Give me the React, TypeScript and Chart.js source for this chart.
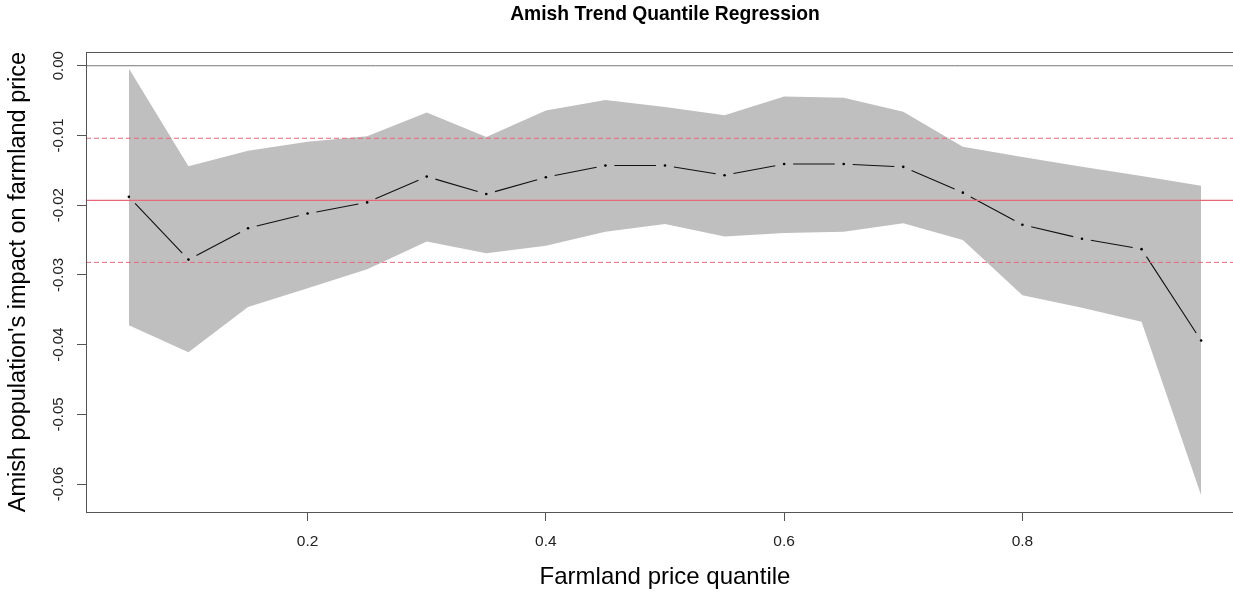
import React, { useEffect, useRef } from "react";
import { Chart, registerables } from "chart.js";

Chart.register(...registerables);

// ---- Data ----
const quantiles = [0.05, 0.1, 0.15, 0.2, 0.25, 0.3, 0.35, 0.4, 0.45, 0.5, 0.55, 0.6, 0.65, 0.7, 0.75, 0.8, 0.85, 0.9, 0.95];
const coefficients = [-0.0188, -0.0278, -0.0233, -0.0212, -0.0196, -0.0159, -0.0184, -0.016, -0.0143, -0.0143, -0.0157, -0.0141, -0.0141, -0.0145, -0.0182, -0.0228, -0.0248, -0.0263, -0.0394];
const upperBound = [-0.0004, -0.0144, -0.0122, -0.0109, -0.0101, -0.0067, -0.0102, -0.0064, -0.0049, -0.0059, -0.0071, -0.0044, -0.0046, -0.0066, -0.0116, -0.0131, -0.0145, -0.0158, -0.0172];
const lowerBound = [-0.0372, -0.0411, -0.0346, -0.0319, -0.0292, -0.0252, -0.0269, -0.0258, -0.0238, -0.0227, -0.0245, -0.024, -0.0238, -0.0226, -0.025, -0.0329, -0.0347, -0.0367, -0.0616];
const olsEstimate = -0.0193;
const olsLower = -0.0282;
const olsUpper = -0.0104;
const zeroLevel = 0;

const xTicks = [0.2, 0.4, 0.6, 0.8];
const yTicks = [0, -0.01, -0.02, -0.03, -0.04, -0.05, -0.06];
const xRange = [0.014, 0.986];
const yRange = [-0.064, 0.00195];

const chartTitle = "Amish Trend Quantile Regression";
const xTitle = "Farmland price quantile";
const yTitle = "Amish population's impact on farmland price";

const FONT = "'Liberation Sans', Arial, Helvetica, sans-serif";
const BAND = "#bfbfbf";
const RED = "#e8687a";
const AXIS = "#555555";
const GAP = 9; // gap (px) left open at each end of a segment, as in R's type = "b"

export default function App() {
  const ref = useRef<HTMLCanvasElement>(null);

  useEffect(() => {
    const canvas = ref.current;
    if (!canvas) return;
    const pts = (vals: number[]) => quantiles.map((q, i) => ({ x: q, y: vals[i] }));
    const hline = (v: number) => [
      { x: xRange[0], y: v },
      { x: xRange[1], y: v },
    ];

    const frame = {
      id: "frame",
      afterDraw(chart: any) {
        const { ctx, chartArea: a } = chart;
        ctx.save();
        ctx.strokeStyle = AXIS;
        ctx.lineWidth = 1;
        ctx.strokeRect(Math.round(a.left) + 0.5, Math.round(a.top) + 0.5, Math.round(a.right - a.left), Math.round(a.bottom - a.top));
        ctx.restore();
      },
    };

    const gappedDash = (c: any) => {
      const len = Math.hypot(c.p1.x - c.p0.x, c.p1.y - c.p0.y);
      const draw = Math.max(len - 2 * GAP, 0.01);
      return [0.001, GAP, draw, GAP + 2000 + c.p0DataIndex * 0.001];
    };

    const chart = new Chart(canvas, {
      type: "line",
      data: {
        datasets: [
          { label: "OLS", data: hline(olsEstimate), borderColor: RED, borderWidth: 1.3, pointRadius: 0, order: 0 },
          { label: "OLS low", data: hline(olsLower), borderColor: RED, borderWidth: 1, borderDash: [5, 3], pointRadius: 0, order: 0 },
          { label: "OLS high", data: hline(olsUpper), borderColor: RED, borderWidth: 1, borderDash: [5, 3], pointRadius: 0, order: 0 },
          {
            label: "coef",
            data: pts(coefficients),
            borderColor: "#111",
            borderWidth: 1.1,
            borderDash: [1, 0],
            pointRadius: 1.3,
            pointBackgroundColor: "#000",
            pointBorderWidth: 0,
            spanGaps: true,
            segment: { borderDash: gappedDash },
            order: 3,
          },
          { label: "zero", data: hline(zeroLevel), borderColor: "#777", borderWidth: 1, pointRadius: 0, order: 4 },
          {
            label: "upper",
            data: pts(upperBound),
            borderWidth: 0,
            borderColor: BAND,
            backgroundColor: BAND,
            fill: "+1",
            pointRadius: 0,
            order: 10,
          },
          { label: "lower", data: pts(lowerBound), borderWidth: 0, borderColor: BAND, fill: false, pointRadius: 0, order: 10 },
        ],
      },
      options: {
        responsive: false,
        animation: false,
        events: [],
        layout: { padding: 0 },
        plugins: {
          legend: { display: false },
          tooltip: { enabled: false },
          title: {
            display: true,
            text: chartTitle,
            color: "#000",
            fullSize: false,
            font: { family: FONT, size: 19.3, weight: "bold" },
            padding: { top: 3, bottom: 26 },
          },
        },
        scales: {
          x: {
            type: "linear",
            min: xRange[0],
            max: xRange[1],
            afterBuildTicks: (s: any) => {
              s.ticks = xTicks.map((v) => ({ value: v }));
            },
            afterFit: (s: any) => {
              s.height = 81;
            },
            ticks: {
              color: "#222",
              font: { family: FONT, size: 15.5 },
              padding: 11,
              maxRotation: 0,
              callback: (v: any) => String(v),
            },
            grid: { drawOnChartArea: false, drawTicks: true, tickLength: 9, color: AXIS, lineWidth: 1 },
            border: { display: true, color: AXIS, width: 1 },
            title: {
              display: true,
              text: xTitle,
              color: "#000",
              font: { family: FONT, size: 24 },
              padding: { top: 0, bottom: 1 },
            },
          },
          y: {
            type: "linear",
            min: yRange[0],
            max: yRange[1],
            afterBuildTicks: (s: any) => {
              s.ticks = yTicks.map((v) => ({ value: v }));
            },
            afterFit: (s: any) => {
              s.width = 86;
            },
            ticks: {
              color: "#222",
              font: { family: FONT, size: 15 },
              padding: 1,
              minRotation: 90,
              maxRotation: 90,
              crossAlign: "center",
              callback: (v: any) => Number(v).toFixed(2),
            },
            grid: { drawOnChartArea: false, drawTicks: true, tickLength: 9, color: AXIS, lineWidth: 1 },
            border: { display: true, color: AXIS, width: 1 },
            title: {
              display: true,
              text: yTitle,
              color: "#000",
              font: { family: FONT, size: 23.5 },
              padding: { top: 4, bottom: 0 },
            },
          },
        },
      } as any,
      plugins: [frame],
    });

    return () => chart.destroy();
  }, []);

  return (
    <div style={{ position: "fixed", left: 0, top: 0, width: 1233, height: 593, overflow: "hidden", background: "#fff" }}>
      <canvas ref={ref} width={1248} height={593} style={{ width: 1248, height: 593, display: "block" }} />
    </div>
  );
}
